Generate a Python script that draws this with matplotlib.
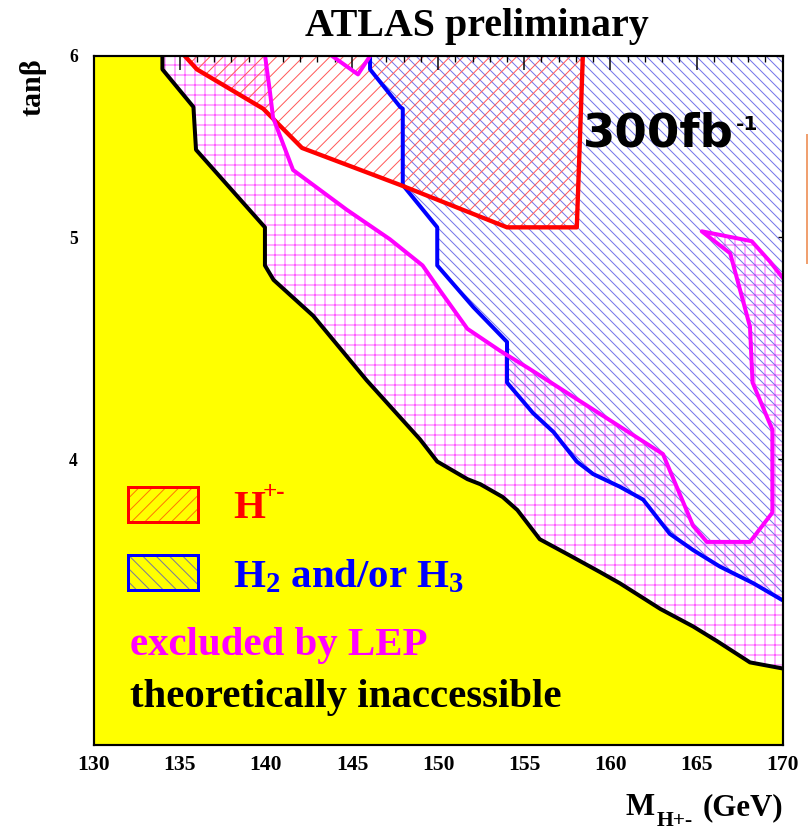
import numpy as np
import matplotlib.pyplot as plt
from matplotlib.patches import Rectangle
from matplotlib.lines import Line2D
from matplotlib.ticker import FixedLocator, FixedFormatter, NullLocator, MultipleLocator

plt.rcParams['font.family'] = ['Liberation Serif', 'DejaVu Serif']
plt.rcParams['font.weight'] = 'bold'
plt.rcParams['mathtext.fontset'] = 'custom'
plt.rcParams['mathtext.rm'] = 'Liberation Serif:bold'
plt.rcParams['mathtext.it'] = 'Liberation Serif:bold'
plt.rcParams['mathtext.bf'] = 'Liberation Serif:bold'
plt.rcParams['hatch.linewidth'] = 0.6

# theoretically inaccessible boundary (black line)
theo_x = [134.0, 134.0, 135.8, 135.95, 139.95, 139.95, 140.45, 142.75, 145.85, 148.95,
          149.95, 151.7, 152.45, 153.75, 154.6, 155.9, 157.65, 159.4, 160.55, 162.9,
          164.8, 166.2, 168.1, 170.0]
theo_y = [6.0, 5.92, 5.70, 5.46, 5.05, 4.86, 4.79, 4.62, 4.33, 4.08,
          3.99, 3.92, 3.90, 3.85, 3.80, 3.69, 3.63, 3.57, 3.53, 3.44,
          3.38, 3.33, 3.26, 3.24]

# H+- discovery contour (red)
hp_x = [135.3, 136.0, 139.85, 142.1, 147.8, 154.0, 158.05, 158.4]
hp_y = [6.0, 5.92, 5.69, 5.47, 5.27, 5.05, 5.05, 6.0]

# H2 and/or H3 contour (blue)
h23_x = [146.05, 146.05, 147.8, 147.95, 147.95, 149.95, 149.95, 152.05, 154.0, 154.0,
         155.5, 156.7, 158.05, 159.0, 160.55, 161.9, 163.45, 164.8, 166.35, 168.3, 170.0]
h23_y = [6.0, 5.92, 5.70, 5.69, 5.27, 5.05, 4.86, 4.66, 4.50, 4.32,
         4.19, 4.11, 3.99, 3.94, 3.89, 3.84, 3.71, 3.65, 3.59, 3.53, 3.47]

# LEP exclusion boundary (magenta)
lep_x = [139.96, 140.25, 140.42, 141.58, 144.7, 147.2, 149.1, 150.1, 151.7, 153.6,
         155.3, 163.05, 164.8, 165.6, 168.1, 169.4, 169.4, 168.25, 168.1, 166.95,
         165.3, 168.2, 169.25, 170.0]
lep_y = [6.0, 5.78, 5.64, 5.35, 5.14, 4.99, 4.86, 4.74, 4.56, 4.46,
         4.38, 4.02, 3.74, 3.68, 3.68, 3.79, 4.12, 4.32, 4.57, 4.92,
         5.03, 4.98, 4.88, 4.80]
lep_v_x = [143.85, 145.35, 146.05]
lep_v_y = [6.0, 5.89, 6.0]

x_ticks = [130, 135, 140, 145, 150, 155, 160, 165, 170]
y_ticks = [4, 5, 6]

fig = plt.figure(figsize=(808 / 120, 830 / 120), dpi=120)
ax = fig.add_axes([93.5 / 808, 85 / 830, 689.2 / 808, 689 / 830])
ax.set_yscale('log')
ax.set_xlim(130, 170)
ax.set_ylim(3, 6)

# hatched regions
lep_fill_x = [theo_x[0]] + lep_x + theo_x[::-1]
lep_fill_y = [6.0] + lep_y + theo_y[::-1]
ax.fill(lep_fill_x, lep_fill_y, facecolor='none', edgecolor='#ff5cff', hatch='++', lw=0, zorder=1)
ax.fill(h23_x + [170.0], h23_y + [6.0], facecolor='none', edgecolor='#7474ea', hatch='\\\\\\\\', lw=0, zorder=1.1)
ax.fill(hp_x, hp_y, facecolor='none', edgecolor='#ff5a5a', hatch='///', lw=0, zorder=1.2)

# theoretically inaccessible
ax.fill([130.0] + theo_x + [170.0, 130.0], [6.0] + theo_y + [3.0, 3.0], color='#ffff00', lw=0, zorder=3)

ax.plot(h23_x, h23_y, color='#0000ff', lw=2.4, zorder=2)
ax.plot(hp_x, hp_y, color='#ff0000', lw=2.6, zorder=2.1)
ax.plot(lep_x, lep_y, color='#ff00ff', lw=2.4, zorder=2.2)
ax.plot(lep_v_x, lep_v_y, color='#ff00ff', lw=2.4, zorder=2.2)
ax.plot(theo_x, theo_y, color='black', lw=2.4, zorder=4)

ax.xaxis.set_major_locator(FixedLocator(x_ticks))
ax.xaxis.set_minor_locator(MultipleLocator(1))
ax.yaxis.set_major_locator(FixedLocator(y_ticks))
ax.yaxis.set_major_formatter(FixedFormatter([str(v) for v in y_ticks]))
ax.yaxis.set_minor_locator(NullLocator())
ax.tick_params(axis='x', which='major', direction='in', top=True, length=8.4, width=0.9,
               labelsize=13, pad=6)
ax.tick_params(axis='x', which='minor', direction='in', top=True, length=3.8, width=0.8)
ax.tick_params(axis='y', which='major', direction='in', right=True, length=3, width=0.8,
               labelsize=10.5, pad=9.5)
for sp in ax.spines.values():
    sp.set_zorder(5)
    sp.set_linewidth(1.3)

# legend drawn inside the yellow area
ax.add_patch(Rectangle((0.050, 0.324), 0.102, 0.050, transform=ax.transAxes, facecolor='none',
                       edgecolor='#ff7a00', hatch='///', lw=0, zorder=6))
ax.add_patch(Rectangle((0.050, 0.324), 0.102, 0.050, transform=ax.transAxes, facecolor='none',
                       edgecolor='#ff0000', lw=1.8, zorder=6))
ax.add_patch(Rectangle((0.050, 0.225), 0.102, 0.051, transform=ax.transAxes, facecolor='none',
                       edgecolor='#7a7a9a', hatch='\\\\\\', lw=0, zorder=6))
ax.add_patch(Rectangle((0.050, 0.225), 0.102, 0.051, transform=ax.transAxes, facecolor='none',
                       edgecolor='#0000ff', lw=1.8, zorder=6))
ax.text(0.2024, 0.3295, 'H', color='#ff0000', fontsize=24.5, va='baseline',
        transform=ax.transAxes, zorder=7)
ax.text(0.246, 0.357, '+-', color='#ff0000', fontsize=15, va='baseline',
        transform=ax.transAxes, zorder=7)
ax.text(0.2024, 0.2293, r'H$_2$ and/or H$_3$', color='#0000ff', fontsize=24.5, va='baseline',
        transform=ax.transAxes, zorder=7)
ax.text(0.053, 0.1306, 'excluded by LEP', color='#ff00ff', fontsize=24.5, va='baseline',
        transform=ax.transAxes, zorder=7)
ax.text(0.053, 0.0552, 'theoretically inaccessible', color='black', fontsize=24.5, va='baseline',
        transform=ax.transAxes, zorder=7)

ax.text(0.710, 0.868, '300fb', family='DejaVu Sans', fontweight='bold', fontsize=28,
        va='baseline', transform=ax.transAxes, zorder=7)
ax.text(0.932, 0.893, '-1', family='DejaVu Sans', fontweight='bold', fontsize=12,
        va='baseline', transform=ax.transAxes, zorder=7)

fig.text(477 / 808, 1 - 36 / 830, 'ATLAS preliminary', fontsize=24, ha='center', va='baseline')
fig.text(33 / 808, 1 - 87 / 830, 'tan\u03b2', fontsize=18, rotation=90, ha='center', va='center')
fig.text(626 / 808, 1 - 815 / 830, 'M', fontsize=18.5, ha='left', va='baseline')
fig.text(657 / 808, 1 - 826 / 830, 'H+-', fontsize=13, ha='left', va='baseline')
fig.text(783 / 808, 1 - 815 / 830, '(GeV)', fontsize=18.5, ha='right', va='baseline')

fig.add_artist(Line2D([806.5 / 808] * 2, [1 - 135 / 830, 1 - 263 / 830], color='#f0a070', lw=1.2))

fig.savefig('out.png', dpi=120)
